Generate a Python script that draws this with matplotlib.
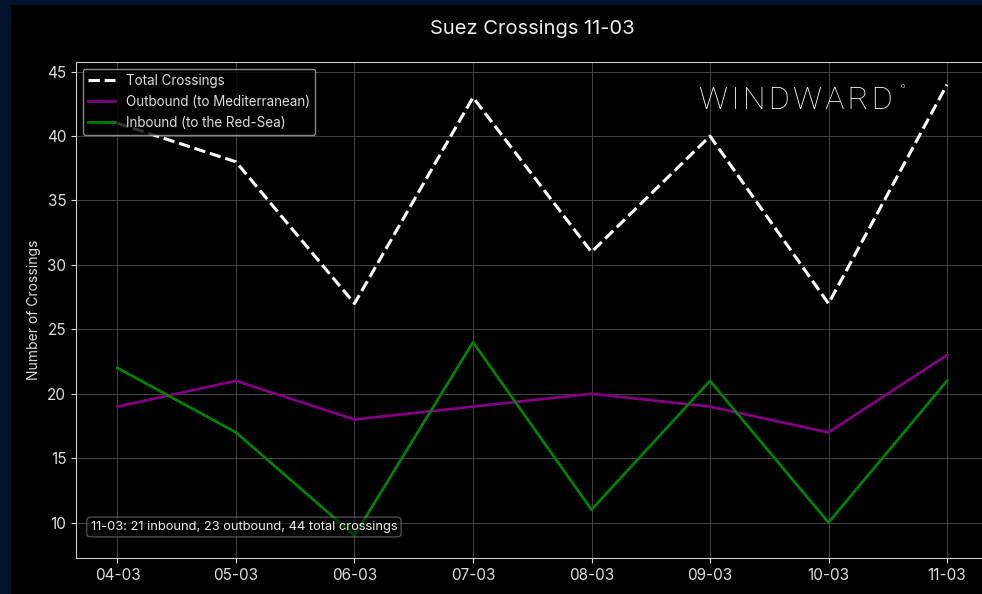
import matplotlib.pyplot as plt
from matplotlib.patches import Rectangle

dates = ["04-03", "05-03", "06-03", "07-03", "08-03", "09-03", "10-03", "11-03"]
total = [41, 38, 27, 43, 31, 40, 27, 44]
outbound = [19, 21, 18, 19, 20, 19, 17, 23]
inbound = [22, 17, 9, 24, 11, 21, 10, 21]

plt.rcParams['font.family'] = ['Inter', 'DejaVu Sans']

fig = plt.figure(figsize=(9.82, 5.94), dpi=100)
fig.patch.set_facecolor('#02132b')
# black panel inside the navy frame
fig.patches.append(Rectangle((11 / 982, 0), 1.0, 1 - 5 / 594, transform=fig.transFigure,
                             facecolor='black', edgecolor='none', zorder=-10))

ax = fig.add_axes([76 / 982, 36 / 594, 912.5 / 982, 496 / 594])
ax.set_facecolor('black')

x = range(len(dates))
ax.plot(x, total, color='white', linestyle='--', linewidth=2.2, label='Total Crossings')
ax.plot(x, outbound, color='#800080', linewidth=2, label='Outbound (to Mediterranean)')
ax.plot(x, inbound, color='#008000', linewidth=2, label='Inbound (to the Red-Sea)')

ax.set_xticks(list(x))
ax.set_xticklabels(dates)
ax.tick_params(colors='#dddddd', labelsize=11)
ax.grid(True, color='#444444', linewidth=0.7)
for s in ax.spines.values():
    s.set_color('#cccccc')

ax.set_ylabel("Number of Crossings", color='#dddddd', fontsize=10)
ax.set_title("Suez Crossings 11-03", color='#eeeeee', fontsize=14.5, pad=20)

leg = ax.legend(loc='upper left', fontsize=9.7, facecolor='black', edgecolor='#aaaaaa',
                framealpha=0.8)
for t in leg.get_texts():
    t.set_color('#dddddd')

ax.text(0.016, 0.0625, "11-03: 21 inbound, 23 outbound, 44 total crossings",
        transform=ax.transAxes, fontsize=9.3, color='#eeeeee', va='center',
        bbox=dict(boxstyle='round,pad=0.3', facecolor='black', alpha=0.5,
                  edgecolor='#999999'))

ax.text(0.895, 0.923, "W\u200aI\u200aN\u200aD\u200aW\u200aA\u200aR\u200aD",
        transform=ax.transAxes, fontsize=23, color='white', ha='right', va='center',
        family=['Roboto', 'DejaVu Sans'], fontweight='light')
ax.text(0.906, 0.94, "°", transform=ax.transAxes, fontsize=12, color='white',
        ha='center', va='center', family=['Roboto', 'DejaVu Sans'], fontweight='light')

plt.savefig("out.png", dpi=100, facecolor=fig.get_facecolor())
plt.close()
